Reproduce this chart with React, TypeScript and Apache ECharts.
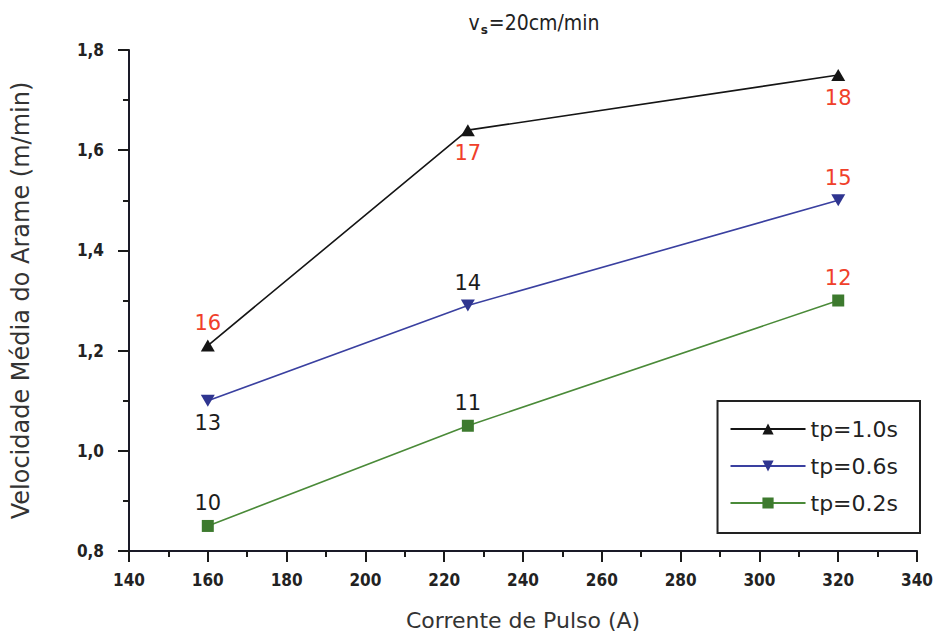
import React, { useEffect, useRef } from "react";
import * as echarts from "echarts";

// Pulse current (A) and mean wire feed speed (m/min) for three pulse times
const correnteDePulso = [160, 226, 320];
const tp10 = [1.21, 1.64, 1.75];
const tp06 = [1.1, 1.29, 1.5];
const tp02 = [0.85, 1.05, 1.3];

// Run identifiers printed next to each point
const ids10 = ["16", "17", "18"];
const ids06 = ["13", "14", "15"];
const ids02 = ["10", "11", "12"];
// Label placement and colour per point
const pos10 = ["top", "bottom", "bottom"];
const pos06 = ["bottom", "top", "top"];
const pos02 = ["top", "top", "top"];
const red10 = [true, true, true];
const red06 = [false, false, true];
const red02 = [false, false, true];

const seriesNames = ["tp=1.0s", "tp=0.6s", "tp=0.2s"];

const RED = "#f0402a";
const DARK = "#1c1c1c";

function points(ys: number[], ids: string[], pos: string[], red: boolean[]) {
  return correnteDePulso.map((x, i) => ({
    value: [x, ys[i]],
    label: {
      show: true,
      formatter: ids[i],
      position: pos[i],
      distance: 6,
      color: red[i] ? RED : DARK,
      fontSize: 21,
      fontFamily: "DejaVu Sans",
    },
  }));
}

export default function App() {
  const ref = useRef<HTMLDivElement>(null);

  useEffect(() => {
    if (!ref.current) return;
    const chart = echarts.init(ref.current, undefined, { renderer: "svg" });
    const axisLine = { show: true, lineStyle: { color: "#1a1a28", width: 2 } };
    const tickLabel = {
      color: "#222",
      fontSize: 17,
      fontWeight: "bold" as const,
      fontFamily: "Liberation Sans Narrow, DejaVu Sans Condensed, sans-serif",
    };
    chart.setOption({
      animation: false,
      backgroundColor: "#ffffff",
      title: {
        text: "v{sub|s}=20cm/min",
        left: 529,
        top: 5,
        textAlign: "center",
        textStyle: {
          fontSize: 21,
          fontWeight: "normal",
          color: "#222",
          fontFamily: "DejaVu Sans Condensed",
          rich: {
            sub: {
              fontSize: 12,
              verticalAlign: "bottom",
              padding: [14, 1, 0, 1],
              fontFamily: "DejaVu Sans",
              fontWeight: "bold",
              color: "#222",
            },
          },
        },
      },
      grid: { left: 129, right: 16, top: 50, bottom: 85 },
      legend: {
        orient: "vertical",
        right: 16,
        top: 401,
        data: seriesNames,
        borderColor: "#222",
        borderWidth: 2,
        padding: [15, 22, 17, 12],
        itemWidth: 75,
        itemHeight: 14,
        itemGap: 11,
        textStyle: {
          fontSize: 22,
          lineHeight: 26,
          color: "#222",
          fontFamily: "DejaVu Sans",
        },
      },
      xAxis: {
        type: "value",
        min: 140,
        max: 340,
        interval: 20,
        name: "Corrente de Pulso (A)",
        nameLocation: "middle",
        nameGap: 58,
        nameTextStyle: {
          fontSize: 22,
          color: "#333",
          fontFamily: "DejaVu Sans",
        },
        axisLine,
        axisTick: { show: true, length: 11, lineStyle: { color: "#1a1a1a", width: 2 } },
        minorTick: { show: true, splitNumber: 2, length: 6, lineStyle: { color: "#1a1a1a", width: 2 } },
        axisLabel: { ...tickLabel, margin: 20 },
        splitLine: { show: false },
      },
      yAxis: {
        type: "value",
        min: 0.8,
        max: 1.8,
        interval: 0.2,
        name: "Velocidade Média do Arame (m/min)",
        nameLocation: "middle",
        nameGap: 96,
        nameTextStyle: {
          fontSize: 24,
          color: "#333",
          fontFamily: "DejaVu Sans",
        },
        axisLine,
        axisTick: { show: true, length: 11, lineStyle: { color: "#1a1a1a", width: 2 } },
        minorTick: { show: true, splitNumber: 2, length: 6, lineStyle: { color: "#1a1a1a", width: 2 } },
        axisLabel: {
          ...tickLabel,
          margin: 25,
          formatter: (v: number) => v.toFixed(1).replace(".", ","),
        },
        splitLine: { show: false },
      },
      series: [
        {
          name: seriesNames[0],
          type: "line",
          data: points(tp10, ids10, pos10, red10),
          symbol: "triangle",
          symbolSize: [14, 12],
          color: "#151515",
          lineStyle: { color: "#151515", width: 1.6 },
          itemStyle: { color: "#151515" },
        },
        {
          name: seriesNames[1],
          type: "line",
          data: points(tp06, ids06, pos06, red06),
          symbol: "path://M0,0L10,0L5,9Z",
          symbolSize: [14, 12],
          color: "#2f3590",
          lineStyle: { color: "#3a40a0", width: 1.6 },
          itemStyle: { color: "#2f3590" },
        },
        {
          name: seriesNames[2],
          type: "line",
          data: points(tp02, ids02, pos02, red02),
          symbol: "rect",
          symbolSize: 12,
          color: "#3d7a2e",
          lineStyle: { color: "#4a8a38", width: 1.6 },
          itemStyle: { color: "#3d7a2e" },
        },
      ],
    });
    return () => chart.dispose();
  }, []);

  return (
    <div
      ref={ref}
      style={{ position: "fixed", left: 0, top: 0, width: 936, height: 636 }}
    />
  );
}
